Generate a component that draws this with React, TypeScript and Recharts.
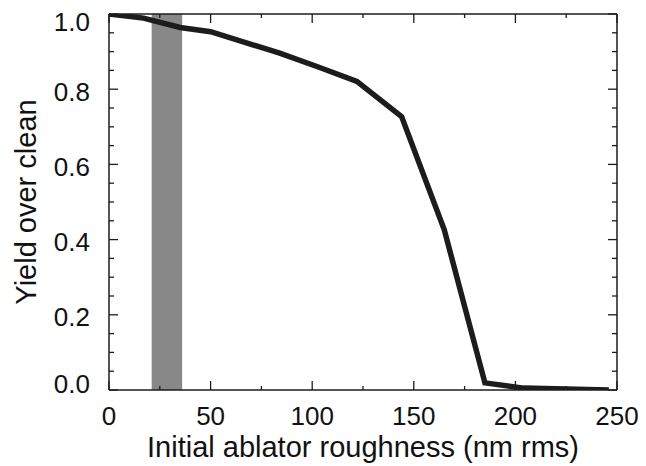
import { LineChart, Line, XAxis, YAxis, ReferenceArea, Label } from "recharts";

const roughness = [0, 17, 35, 50, 84, 103, 122, 144, 165, 185, 204, 246];
const yieldRatio = [1.0, 0.989, 0.964, 0.953, 0.896, 0.859, 0.821, 0.727, 0.426, 0.019, 0.005, 0.0];

const xTicks = [0, 25, 50, 75, 100, 125, 150, 175, 200, 225, 250];
const yTicks = [0, 0.05, 0.1, 0.15, 0.2, 0.25, 0.3, 0.35, 0.4, 0.45, 0.5, 0.55, 0.6, 0.65, 0.7, 0.75, 0.8, 0.85, 0.9, 0.95, 1.0];

// shaded band of initial roughness
const bandFrom = 21;
const bandTo = 36;

const FONT = "'Liberation Sans', Arial, Helvetica, sans-serif";
const INK = "#1c1c1c";

const data = roughness.map((x, i) => ({ x, y: yieldRatio[i] }));

const isMajorX = (v: number) => v % 50 === 0;
const isMajorY = (v: number) => Math.abs(v * 5 - Math.round(v * 5)) < 1e-6;

function BottomTick(props: any) {
  const { x, y, payload } = props;
  const v = payload.value as number;
  const major = isMajorX(v);
  return (
    <g>
      <line x1={x} x2={x} y1={y} y2={y - (major ? 9 : 4)} stroke={INK} strokeWidth={1.3} />
      {major && (
        <text x={x} y={y + 35} textAnchor="middle" fontSize={26} fontFamily={FONT} fill="#111">
          {v}
        </text>
      )}
    </g>
  );
}

function TopTick(props: any) {
  const { x, y, payload } = props;
  const major = isMajorX(payload.value);
  return <line x1={x} x2={x} y1={y} y2={y + (major ? 9 : 4)} stroke={INK} strokeWidth={1.3} />;
}

function LeftTick(props: any) {
  const { x, y, payload } = props;
  const v = payload.value as number;
  const major = isMajorY(v);
  const nudge = v >= 0.999 ? 8 : v <= 0.001 ? -6 : 2;
  return (
    <g>
      <line x1={x} x2={x + (major ? 9 : 5)} y1={y} y2={y} stroke={INK} strokeWidth={1.3} />
      {major && (
        <text x={x - 19} y={y + nudge} dy="0.36em" textAnchor="end" fontSize={26} fontFamily={FONT} fill="#111">
          {v.toFixed(1)}
        </text>
      )}
    </g>
  );
}

function RightTick(props: any) {
  const { x, y, payload } = props;
  const major = isMajorY(payload.value);
  return <line x1={x} x2={x - (major ? 9 : 5)} y1={y} y2={y} stroke={INK} strokeWidth={1.3} />;
}

export default function App() {
  const axisLine = { stroke: INK, strokeWidth: 1.5 };
  return (
    <div style={{ position: "absolute", left: 0, top: 0, background: "#fff" }}>
      <LineChart width={646} height={466} data={data} margin={{ top: 0, right: 0, bottom: 0, left: 0 }}>
        <XAxis
          dataKey="x"
          type="number"
          domain={[0, 250]}
          allowDataOverflow
          ticks={xTicks}
          interval={0}
          height={76}
          tickSize={0}
          tickMargin={0}
          tickLine={false}
          axisLine={axisLine}
          tick={<BottomTick />}
        >
          <Label
            content={({ viewBox }: any) => (
              <text
                x={viewBox.x + viewBox.width / 2}
                y={457}
                textAnchor="middle"
                fontSize={29}
                fontFamily={FONT}
                fill="#111"
              >
                Initial ablator roughness (nm rms)
              </text>
            )}
          />
        </XAxis>
        <XAxis
          xAxisId="top"
          orientation="top"
          dataKey="x"
          type="number"
          domain={[0, 250]}
          allowDataOverflow
          ticks={xTicks}
          interval={0}
          height={14}
          tickSize={0}
          tickMargin={0}
          tickLine={false}
          axisLine={axisLine}
          tick={<TopTick />}
        />
        <YAxis
          type="number"
          domain={[0, 1]}
          allowDataOverflow
          ticks={yTicks}
          interval={0}
          width={109}
          tickSize={0}
          tickMargin={0}
          tickLine={false}
          axisLine={axisLine}
          tick={<LeftTick />}
        >
          <Label
            content={({ viewBox }: any) => {
              const cy = viewBox.y + viewBox.height / 2;
              return (
                <text
                  x={26}
                  y={cy}
                  transform={`rotate(-90 26 ${cy})`}
                  textAnchor="middle"
                  dominantBaseline="central"
                  fontSize={29}
                  fontFamily={FONT}
                  fill="#111"
                >
                  Yield over clean
                </text>
              );
            }}
          />
        </YAxis>
        <YAxis
          yAxisId="right"
          orientation="right"
          type="number"
          domain={[0, 1]}
          allowDataOverflow
          ticks={yTicks}
          interval={0}
          width={29}
          tickSize={0}
          tickMargin={0}
          tickLine={false}
          axisLine={axisLine}
          tick={<RightTick />}
        />
        <ReferenceArea x1={bandFrom} x2={bandTo} fill="#888888" fillOpacity={1} stroke="none" />
        <Line
          dataKey="y"
          type="linear"
          stroke={INK}
          strokeWidth={5.5}
          dot={false}
          activeDot={false}
          isAnimationActive={false}
        />
      </LineChart>
    </div>
  );
}
